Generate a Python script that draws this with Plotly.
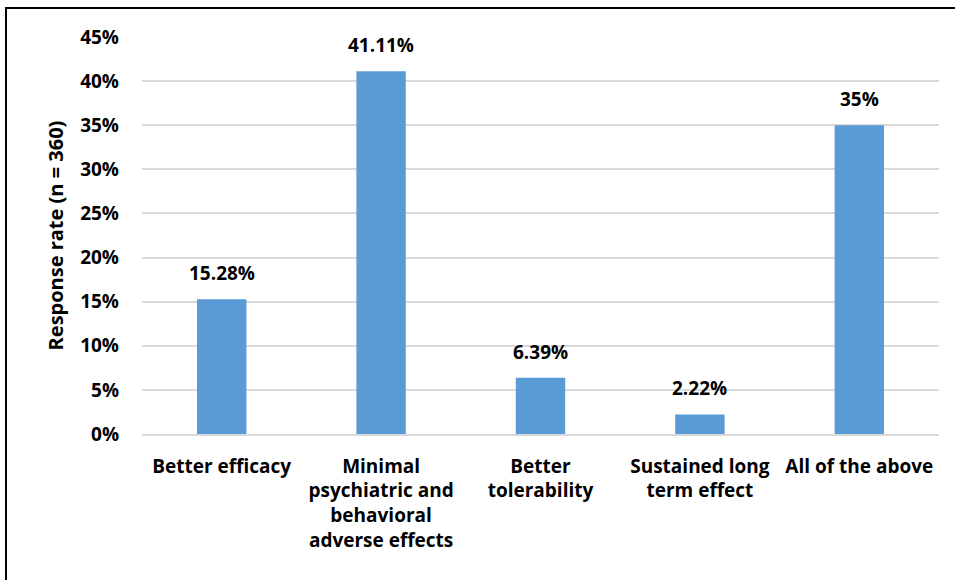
import plotly.graph_objects as go

categories = [
    "Better efficacy",
    "Minimal<br>psychiatric and<br>behavioral<br>adverse effects",
    "Better<br>tolerability",
    "Sustained long<br>term effect",
    "All of the above",
]
values = [15.28, 41.11, 6.39, 2.22, 35]
value_labels = ["15.28%", "41.11%", "6.39%", "2.22%", "35%"]
tick_vals = [0, 5, 10, 15, 20, 25, 30, 35, 40, 45]
tick_text = ["0%", "5%", "10%", "15%", "20%", "25%", "30%", "35%", "40%", "45%"]

FONT = "Open Sans"
L, R, T, B = 142, 16, 37, 146
W, H = 955, 580
pw = W - L - R
ph = H - T - B

fig = go.Figure()
fig.add_trace(go.Bar(
    x=categories, y=values,
    marker=dict(color="#5B9BD5", line=dict(width=0)),
    width=0.31,
    hoverinfo="skip",
))

for c, v, lab in zip(categories, values, value_labels):
    fig.add_annotation(
        x=c, y=v, text="<b>%s</b>" % lab, showarrow=False,
        yanchor="bottom", yshift=11,
        font=dict(family=FONT, size=19, color="#000000"),
    )

fig.add_shape(
    type="rect", xref="paper", yref="paper",
    x0=(6 - L) / pw, x1=2.0,
    y0=-1.0, y1=(H - B - 8) / ph,
    line=dict(color="#000000", width=2), fillcolor="rgba(0,0,0,0)",
    layer="below",
)

fig.update_layout(
    width=W, height=H,
    margin=dict(l=L, r=R, t=T, b=B, pad=0),
    paper_bgcolor="#ffffff", plot_bgcolor="#ffffff",
    showlegend=False,
    font=dict(family=FONT, size=19, color="#000000"),
    xaxis=dict(
        showgrid=False, showline=True, linecolor="#d9d9d9", linewidth=1.5,
        ticks="", tickfont=dict(family=FONT, size=19, color="#000000", weight="bold"),
        ticklabelstandoff=14,
    ),
    yaxis=dict(
        range=[0, 45], tickvals=tick_vals, ticktext=tick_text,
        showgrid=True, gridcolor="#d9d9d9", gridwidth=1.5,
        zeroline=False, showline=False, ticks="",
        tickfont=dict(family=FONT, size=19, color="#000000", weight="bold"),
        ticklabelstandoff=22,
        title=dict(text="<b>Response rate (n = 360)</b>",
                   font=dict(family=FONT, size=20, color="#000000"), standoff=11),
    ),
)

fig.write_html("out.html", config={"displayModeBar": False},
               post_script="document.body.style.margin='0px';")
